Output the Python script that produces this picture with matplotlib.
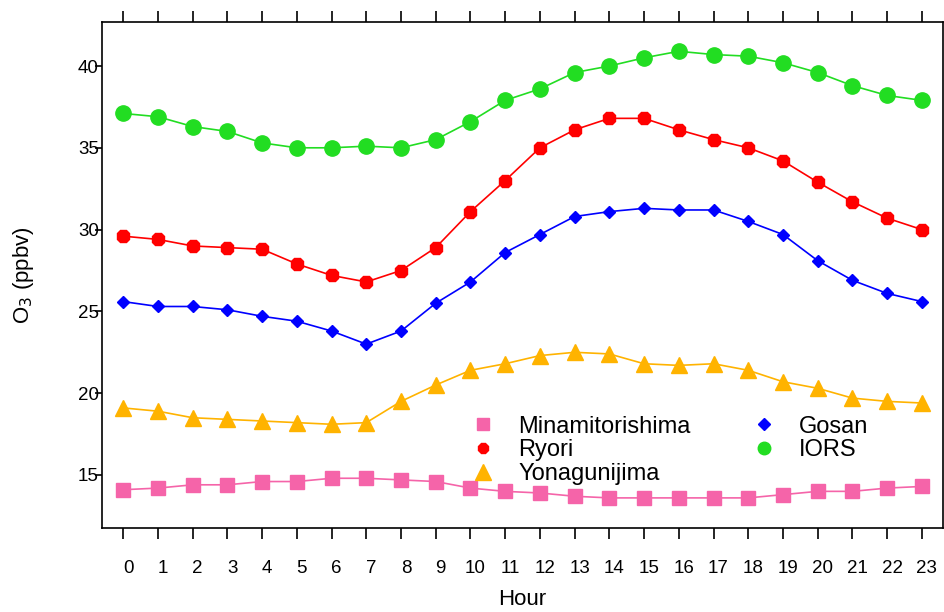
import matplotlib
matplotlib.use('Agg')
import matplotlib.pyplot as plt
from matplotlib.lines import Line2D
from matplotlib.transforms import ScaledTranslation

plt.rcParams['font.family'] = ['Liberation Sans', 'DejaVu Sans']

hours = list(range(24))
minamitorishima = [14.1, 14.2, 14.4, 14.4, 14.6, 14.6, 14.8, 14.8, 14.7, 14.6, 14.2, 14.0,
                   13.9, 13.7, 13.6, 13.6, 13.6, 13.6, 13.6, 13.8, 14.0, 14.0, 14.2, 14.3]
ryori = [29.6, 29.4, 29.0, 28.9, 28.8, 27.9, 27.2, 26.8, 27.5, 28.9, 31.1, 33.0,
         35.0, 36.1, 36.8, 36.8, 36.1, 35.5, 35.0, 34.2, 32.9, 31.7, 30.7, 30.0]
yonagunijima = [19.1, 18.9, 18.5, 18.4, 18.3, 18.2, 18.1, 18.2, 19.5, 20.5, 21.4, 21.8,
                22.3, 22.5, 22.4, 21.8, 21.7, 21.8, 21.4, 20.7, 20.3, 19.7, 19.5, 19.4]
gosan = [25.6, 25.3, 25.3, 25.1, 24.7, 24.4, 23.8, 23.0, 23.8, 25.5, 26.8, 28.6,
         29.7, 30.8, 31.1, 31.3, 31.2, 31.2, 30.5, 29.7, 28.1, 26.9, 26.1, 25.6]
iors = [37.1, 36.9, 36.3, 36.0, 35.3, 35.0, 35.0, 35.1, 35.0, 35.5, 36.6, 37.9,
        38.6, 39.6, 40.0, 40.5, 40.9, 40.7, 40.6, 40.2, 39.6, 38.8, 38.2, 37.9]

fig = plt.figure(figsize=(9.44, 6.12), dpi=100)
ax = fig.add_axes([101.7/944, 1-528/612, 841/944, 506/612])

series = [
    ('Minamitorishima', minamitorishima, '#f564a9', 's', 10, 8.5),
    ('Ryori', ryori, '#ff0000', '8', 10, 8.5),
    ('Yonagunijima', yonagunijima, '#ffb300', '^', 11, 11),
    ('Gosan', gosan, '#0000ff', 'D', 6.5, 6),
    ('IORS', iors, '#22dd22', 'o', 11, 9),
]
handles = []
for name, vals, col, mk, ms, lms in series:
    ax.plot(hours, vals, color=col, marker=mk, ms=ms, lw=1.2)
    handles.append(Line2D([], [], color=col, marker=mk, ms=lms, ls='none', label=name))

ax.set_xlim(-0.62, 23.6)
ax.set_ylim(11.76, 42.69)
ax.set_xticks(hours)
ax.set_yticks([15, 20, 25, 30, 35, 40])
ax.tick_params(axis='x', top=True, direction='out', length=8, width=1.2, pad=15, labelsize=13.5)
ax.tick_params(axis='y', direction='out', length=5, width=1.2, pad=-3, labelsize=13.5)
for lab in ax.get_xticklabels():
    lab.set_transform(lab.get_transform() + ScaledTranslation(5/100, 0, fig.dpi_scale_trans))
for s in ax.spines.values():
    s.set_linewidth(1.2)

ax.set_xlabel('Hour', fontsize=16, labelpad=9)
ax.set_ylabel('O$_3$ (ppbv)', fontsize=16, labelpad=30)

ax.legend(handles=handles, ncol=2, frameon=False, fontsize=17, loc='upper left',
          bbox_to_anchor=(0.439, 0.222),
          handlelength=1, handletextpad=1.0, labelspacing=0.07, columnspacing=2.6,
          borderpad=0, borderaxespad=0)

fig.savefig('out.png', dpi=100)
